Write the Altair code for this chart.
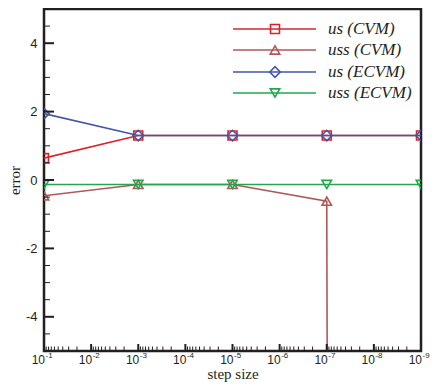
import altair as alt
import pandas as pd

# ---- data ----
step = [1e-1, 1e-3, 1e-5, 1e-7, 1e-9]
us_cvm = [0.64, 1.30, 1.30, 1.30, 1.30]
uss_cvm = [-0.46, -0.13, -0.13, -0.62, -1000.0]
us_ecvm = [1.94, 1.30, 1.30, 1.30, 1.30]
uss_ecvm = [-0.13, -0.13, -0.13, -0.13, -0.13]

series_names = ["us (CVM)", "uss (CVM)", "us (ECVM)", "uss (ECVM)"]
series_vals = [us_cvm, uss_cvm, us_ecvm, uss_ecvm]
colors = ["#d7242b", "#b05858", "#4256a8", "#20a84b"]
shapes = ["square", "triangle-up", "diamond", "triangle-down"]
sizes = [80, 90, 110, 90]

x_major = [10.0 ** (-k) for k in range(1, 10)]
x_tick_base = ["10"] * 9
x_tick_exp = ["-1", "-2", "-3", "-4", "-5", "-6", "-7", "-8", "-9"]
x_minor = [m * 10.0 ** (-k) for k in range(2, 10) for m in range(2, 10)]
y_major = [-4, -2, 0, 2, 4]
y_minor = [v / 2 for v in range(-9, 10) if v % 4 != 0]

W, H = 377, 342
INK = "#231f20"

xscale = alt.Scale(type="log", domain=[1e-9, 1e-1], reverse=True, nice=False)
yscale = alt.Scale(domain=[-5, 5], nice=False, zero=False)

xaxis = alt.Axis(values=x_major, labels=False, ticks=False, domain=False, grid=False,
                 title="step size", titleFont="Liberation Serif", titleFontSize=15,
                 titleFontWeight="normal", titleColor=INK,
                 titleBaseline="alphabetic", titleY=27)
yaxis = alt.Axis(values=y_major, labelExpr="datum.value < 0 ? '-' + abs(datum.value) : '' + datum.value",
                 ticks=False, domain=False, grid=False, title="error",
                 labelFont="Liberation Sans", labelFontSize=13, labelColor=INK,
                 labelPadding=7, labelFlush=False,
                 titleFont="Liberation Serif", titleFontSize=15, titleFontWeight="normal",
                 titleColor=INK, titleBaseline="middle", titleX=-30)

rows = []
for name, vals in zip(series_names, series_vals):
    for s, v in zip(step, vals):
        rows.append({"series": name, "x": s, "y": v})
df = pd.DataFrame(rows)

layers = []
for i, name in enumerate(series_names):
    sub = alt.Chart(df).transform_filter(alt.datum.series == name)
    layers.append(sub.mark_line(clip=True, strokeWidth=1.6, color=colors[i]).encode(
        x=alt.X("x:Q", scale=xscale, axis=xaxis),
        y=alt.Y("y:Q", scale=yscale, axis=yaxis)))
for i, name in enumerate(series_names):
    sub = alt.Chart(df).transform_filter(alt.datum.series == name)
    layers.append(sub.mark_point(clip=True, filled=False, strokeWidth=1.6, color=colors[i],
                                 shape=shapes[i], size=sizes[i], opacity=1).encode(
        x=alt.X("x:Q", scale=xscale, axis=xaxis),
        y=alt.Y("y:Q", scale=yscale, axis=yaxis)))

# inward tick marks
xmaj_df = pd.DataFrame({"x": x_major[1:-1]})
xmin_df = pd.DataFrame({"x": x_minor})
ymaj_df = pd.DataFrame({"y": y_major})
ymin_df = pd.DataFrame({"y": y_minor})
layers.append(alt.Chart(xmaj_df).mark_rule(color=INK, strokeWidth=2).encode(
    x=alt.X("x:Q", scale=xscale, axis=xaxis), y=alt.value(H), y2=alt.value(H - 7)))
layers.append(alt.Chart(xmin_df).mark_rule(color=INK, strokeWidth=1).encode(
    x=alt.X("x:Q", scale=xscale, axis=xaxis), y=alt.value(H), y2=alt.value(H - 4.5)))
layers.append(alt.Chart(ymaj_df).mark_rule(color=INK, strokeWidth=2).encode(
    y=alt.Y("y:Q", scale=yscale, axis=yaxis), x=alt.value(0), x2=alt.value(10)))
layers.append(alt.Chart(ymin_df).mark_rule(color=INK, strokeWidth=1).encode(
    y=alt.Y("y:Q", scale=yscale, axis=yaxis), x=alt.value(0), x2=alt.value(6)))

# x tick labels: "10" with raised exponent
lab_df = pd.DataFrame({"x": x_major, "base": x_tick_base, "exp": x_tick_exp})
layers.append(alt.Chart(lab_df).mark_text(align="right", baseline="alphabetic", font="Liberation Sans",
                                          fontSize=12, color=INK, dx=1).encode(
    x=alt.X("x:Q", scale=xscale, axis=xaxis), y=alt.value(H + 13), text="base:N"))
layers.append(alt.Chart(lab_df).mark_text(align="left", baseline="alphabetic", font="Liberation Sans",
                                          fontSize=8, color=INK, dx=1.5).encode(
    x=alt.X("x:Q", scale=xscale, axis=xaxis), y=alt.value(H + 7), text="exp:N"))

# legend
row_y = [20, 41, 63, 84]
for i, name in enumerate(series_names):
    ld = pd.DataFrame({"name": [name]})
    layers.append(alt.Chart(ld).mark_rule(color=colors[i], strokeWidth=1.6).encode(
        x=alt.value(189), x2=alt.value(272), y=alt.value(row_y[i])))
    layers.append(alt.Chart(ld).mark_point(filled=False, strokeWidth=1.6, color=colors[i],
                                           shape=shapes[i], size=sizes[i], opacity=1).encode(
        x=alt.value(231), y=alt.value(row_y[i])))
    layers.append(alt.Chart(ld).mark_text(align="left", baseline="middle", font="Liberation Serif",
                                          fontStyle="italic", fontSize=17, color=INK).encode(
        x=alt.value(284), y=alt.value(row_y[i]), text="name:N"))

chart = alt.layer(*layers).properties(
    width=W, height=H,
    autosize=alt.AutoSizeParams(type="none"),
    padding={"left": 36, "top": 1, "right": 10, "bottom": 31},
).configure_view(stroke=INK, strokeWidth=2.5).configure_axis(
    titleFont="Liberation Serif", titleFontWeight="normal")

chart.save("out.html", embed_options={"renderer": "svg", "actions": False})
